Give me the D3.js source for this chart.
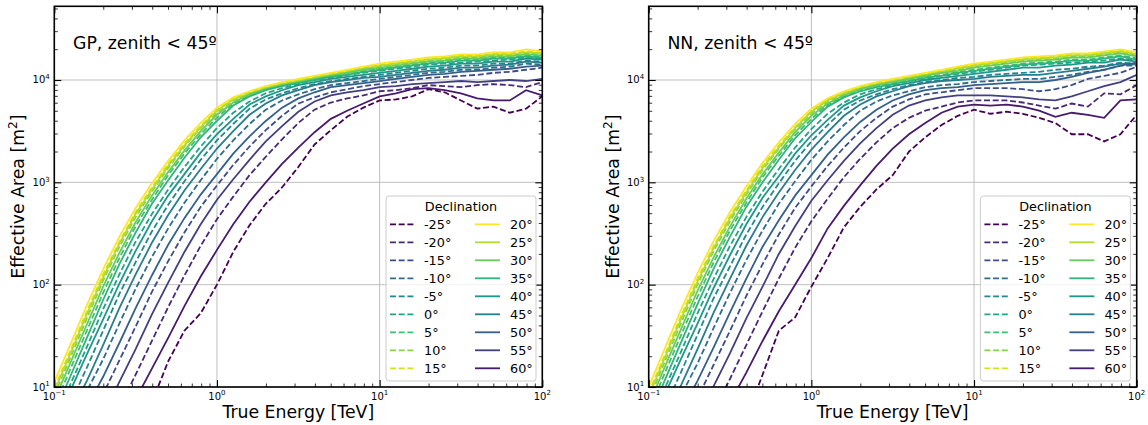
<!DOCTYPE html>
<html>
<head>
<meta charset="utf-8">
<script src="https://cdn.jsdelivr.net/npm/d3@7"></script>
<style>
body { margin: 0; background: #fff; }
svg text { font-family: "DejaVu Sans", sans-serif; fill: #000; }
</style>
</head>
<body>
<svg id="chart" width="1148" height="425"></svg>
<script>
// energy grid, log10(E / TeV)
var logEnergy = [-1.0,-0.9,-0.8,-0.7,-0.6,-0.5,-0.4,-0.3,-0.2,-0.1,0.0,0.1,0.2,0.3,0.4,0.5,0.6,0.7,0.8,0.9,1.0,1.1,1.2,1.3,1.4,1.5,1.6,1.7,1.8,1.9,2.0];

var declinations = [-25,-20,-15,-10,-5,0,5,10,15,20,25,30,35,40,45,50,55,60];

var panelTitles = ["GP, zenith < 45º", "NN, zenith < 45º"];

var xTickExponents = [-1, 0, 1, 2];
var yTickExponents = [1, 2, 3, 4];

// log10(effective area / m2), one row per declination (same order as above)
var gpLogArea = [
  [null,null,null,null,null,null,0.85,1.25,1.55,1.72,2.00,2.32,2.58,2.79,2.95,3.15,3.37,3.51,3.64,3.73,3.80,3.81,3.84,3.91,3.88,3.80,3.72,3.74,3.68,3.72,3.84],
  [null,null,null,null,0.80,1.12,1.45,1.78,2.09,2.38,2.64,2.86,3.07,3.25,3.42,3.58,3.71,3.78,3.82,3.85,3.89,3.90,3.92,3.95,3.94,3.93,3.95,3.96,3.95,3.93,3.98],
  [null,null,0.60,0.93,1.26,1.59,1.93,2.23,2.51,2.76,2.97,3.17,3.35,3.51,3.65,3.77,3.83,3.88,3.91,3.94,3.96,3.98,4.00,4.02,4.03,4.04,4.05,4.07,4.08,4.10,4.12],
  [null,0.59,0.96,1.27,1.62,1.96,2.27,2.55,2.80,3.02,3.23,3.41,3.57,3.71,3.80,3.86,3.91,3.95,3.97,3.99,4.01,4.03,4.05,4.07,4.08,4.10,4.10,4.12,4.13,4.16,4.15],
  [0.48,0.84,1.19,1.55,1.91,2.22,2.52,2.78,3.01,3.22,3.41,3.57,3.72,3.81,3.87,3.92,3.96,3.99,4.01,4.03,4.05,4.07,4.09,4.11,4.12,4.14,4.14,4.16,4.16,4.19,4.18],
  [0.67,1.03,1.39,1.76,2.10,2.42,2.69,2.93,3.15,3.35,3.53,3.68,3.79,3.87,3.92,3.96,4.00,4.02,4.05,4.07,4.09,4.11,4.13,4.15,4.16,4.17,4.18,4.19,4.20,4.22,4.21],
  [0.81,1.18,1.55,1.92,2.26,2.57,2.83,3.07,3.28,3.47,3.63,3.77,3.85,3.91,3.95,3.98,4.01,4.04,4.06,4.09,4.11,4.13,4.15,4.17,4.18,4.20,4.20,4.22,4.22,4.24,4.23],
  [0.92,1.29,1.67,2.04,2.37,2.66,2.91,3.14,3.35,3.53,3.68,3.80,3.86,3.91,3.95,3.98,4.01,4.04,4.07,4.10,4.13,4.15,4.17,4.19,4.20,4.22,4.22,4.24,4.24,4.26,4.25],
  [0.99,1.36,1.74,2.10,2.42,2.71,2.95,3.18,3.38,3.55,3.71,3.82,3.88,3.93,3.97,4.00,4.03,4.06,4.09,4.12,4.15,4.17,4.19,4.21,4.22,4.24,4.24,4.26,4.26,4.28,4.27],
  [1.05,1.42,1.80,2.15,2.47,2.75,2.99,3.21,3.41,3.58,3.73,3.83,3.89,3.94,3.98,4.01,4.04,4.07,4.10,4.13,4.16,4.18,4.20,4.22,4.23,4.25,4.25,4.27,4.27,4.30,4.28],
  [0.96,1.33,1.71,2.07,2.40,2.69,2.93,3.16,3.36,3.54,3.70,3.81,3.87,3.92,3.96,3.99,4.02,4.05,4.08,4.11,4.14,4.16,4.18,4.20,4.21,4.23,4.23,4.25,4.25,4.27,4.26],
  [0.87,1.24,1.61,1.98,2.31,2.61,2.87,3.10,3.31,3.50,3.66,3.78,3.86,3.91,3.95,3.98,4.01,4.04,4.07,4.10,4.12,4.14,4.16,4.18,4.19,4.21,4.21,4.23,4.23,4.25,4.24],
  [0.74,1.11,1.48,1.85,2.20,2.51,2.79,3.02,3.24,3.44,3.60,3.75,3.84,3.90,3.94,3.97,4.00,4.03,4.05,4.08,4.10,4.12,4.14,4.16,4.17,4.19,4.19,4.21,4.21,4.23,4.22],
  [0.62,0.97,1.32,1.66,2.01,2.33,2.62,2.87,3.08,3.29,3.47,3.62,3.76,3.84,3.90,3.95,3.98,4.01,4.03,4.05,4.07,4.09,4.11,4.13,4.14,4.16,4.16,4.18,4.18,4.21,4.20],
  [null,0.75,1.06,1.41,1.77,2.10,2.41,2.68,2.92,3.13,3.33,3.50,3.66,3.77,3.85,3.90,3.95,3.98,4.00,4.02,4.03,4.05,4.07,4.09,4.10,4.12,4.12,4.14,4.15,4.18,4.17],
  [null,null,0.80,1.10,1.43,1.77,2.09,2.39,2.65,2.88,3.08,3.28,3.45,3.60,3.73,3.82,3.88,3.93,3.95,3.97,3.99,4.01,4.03,4.05,4.06,4.08,4.09,4.10,4.11,4.13,4.14],
  [null,null,null,0.72,1.05,1.37,1.71,2.02,2.32,2.59,2.83,3.03,3.22,3.40,3.55,3.69,3.79,3.85,3.88,3.90,3.93,3.94,3.96,3.97,3.98,3.99,3.98,3.99,4.00,3.99,4.01],
  [null,null,null,null,null,0.88,1.18,1.48,1.79,2.08,2.34,2.59,2.81,3.00,3.18,3.34,3.49,3.62,3.70,3.77,3.84,3.87,3.91,3.92,3.90,3.87,3.82,3.80,3.80,3.90,3.85]
];

var nnLogArea = [
  [null,null,null,null,null,null,0.70,1.12,1.55,1.68,1.98,2.26,2.56,2.76,2.93,3.07,3.30,3.44,3.56,3.65,3.71,3.67,3.69,3.67,3.63,3.58,3.47,3.47,3.40,3.47,3.66],
  [null,null,null,null,0.76,1.08,1.41,1.74,2.06,2.36,2.62,2.84,3.05,3.23,3.39,3.53,3.63,3.70,3.74,3.78,3.80,3.80,3.80,3.78,3.75,3.72,3.77,3.74,3.87,3.86,3.95],
  [null,null,0.56,0.89,1.22,1.55,1.89,2.20,2.49,2.75,2.96,3.16,3.34,3.50,3.63,3.74,3.81,3.86,3.88,3.90,3.92,3.92,3.92,3.91,3.89,3.91,3.95,4.01,4.04,4.07,4.13],
  [null,0.55,0.92,1.23,1.58,1.92,2.24,2.53,2.79,3.01,3.22,3.40,3.56,3.70,3.79,3.85,3.89,3.93,3.95,3.96,3.98,3.99,4.00,4.01,4.01,4.03,4.05,4.08,4.10,4.14,4.14],
  [0.43,0.80,1.15,1.51,1.87,2.18,2.49,2.76,2.99,3.21,3.40,3.56,3.71,3.80,3.86,3.91,3.95,3.98,4.00,4.02,4.03,4.05,4.06,4.07,4.08,4.10,4.11,4.13,4.14,4.17,4.16],
  [0.62,0.99,1.35,1.72,2.06,2.38,2.66,2.91,3.13,3.34,3.52,3.67,3.78,3.86,3.91,3.95,3.99,4.01,4.04,4.06,4.08,4.10,4.12,4.14,4.15,4.16,4.17,4.18,4.19,4.21,4.19],
  [0.76,1.14,1.51,1.88,2.22,2.53,2.80,3.05,3.26,3.46,3.62,3.76,3.84,3.90,3.94,3.97,4.00,4.03,4.05,4.08,4.10,4.12,4.14,4.16,4.17,4.18,4.20,4.20,4.22,4.24,4.21],
  [0.87,1.25,1.63,2.00,2.33,2.62,2.88,3.12,3.33,3.52,3.67,3.79,3.86,3.91,3.95,3.98,4.01,4.04,4.07,4.10,4.13,4.15,4.17,4.19,4.20,4.21,4.23,4.23,4.25,4.27,4.24],
  [0.94,1.32,1.70,2.06,2.38,2.67,2.92,3.16,3.36,3.54,3.70,3.81,3.88,3.93,3.97,4.00,4.03,4.06,4.09,4.12,4.15,4.17,4.19,4.21,4.22,4.23,4.25,4.25,4.27,4.29,4.26],
  [1.00,1.38,1.76,2.11,2.43,2.71,2.96,3.19,3.39,3.57,3.72,3.82,3.89,3.94,3.98,4.01,4.04,4.07,4.10,4.13,4.16,4.18,4.20,4.22,4.23,4.24,4.26,4.26,4.28,4.30,4.27],
  [0.91,1.29,1.67,2.03,2.36,2.65,2.90,3.14,3.34,3.53,3.69,3.80,3.87,3.92,3.96,3.99,4.02,4.05,4.08,4.11,4.14,4.16,4.18,4.20,4.21,4.22,4.24,4.24,4.26,4.28,4.25],
  [0.82,1.20,1.57,1.94,2.27,2.57,2.84,3.08,3.29,3.49,3.65,3.77,3.85,3.91,3.95,3.98,4.01,4.04,4.07,4.09,4.12,4.14,4.16,4.18,4.19,4.20,4.22,4.22,4.24,4.26,4.23],
  [0.69,1.07,1.44,1.81,2.16,2.47,2.76,3.00,3.22,3.43,3.59,3.74,3.83,3.89,3.93,3.96,3.99,4.02,4.04,4.07,4.09,4.11,4.13,4.15,4.16,4.17,4.19,4.19,4.21,4.23,4.20],
  [0.57,0.93,1.28,1.62,1.97,2.29,2.59,2.85,3.06,3.28,3.46,3.61,3.75,3.83,3.89,3.94,3.97,4.00,4.02,4.04,4.06,4.08,4.10,4.12,4.12,4.14,4.15,4.17,4.17,4.20,4.18],
  [null,0.71,1.02,1.37,1.73,2.06,2.38,2.66,2.90,3.12,3.32,3.49,3.65,3.76,3.84,3.89,3.94,3.97,3.99,4.00,4.01,4.03,4.04,4.05,4.05,4.07,4.09,4.11,4.13,4.16,4.15],
  [null,null,0.76,1.06,1.39,1.73,2.06,2.37,2.63,2.87,3.07,3.27,3.44,3.59,3.71,3.80,3.86,3.90,3.92,3.93,3.95,3.96,3.97,3.98,3.98,4.00,4.03,4.07,4.10,4.14,4.17],
  [null,null,null,0.68,1.01,1.33,1.67,1.98,2.30,2.57,2.82,3.02,3.21,3.38,3.53,3.66,3.75,3.80,3.83,3.85,3.85,3.85,3.84,3.83,3.81,3.80,3.84,3.89,3.94,3.98,4.05],
  [null,null,null,null,null,0.85,1.14,1.45,1.74,2.00,2.26,2.55,2.77,2.97,3.16,3.33,3.47,3.58,3.68,3.74,3.76,3.75,3.76,3.74,3.70,3.64,3.68,3.66,3.63,3.80,3.81]
];

// layout
var plotW = 488, plotTop = 6.3, plotBottom = 387;
var panelLeft = [54.3, 648.7];
var yMaxArea = 5.25e4;

var svg = d3.select("#chart");

// colour by distance from overhead (site latitude ~19 deg)
function decColor(dec) {
	var zen = Math.abs(dec - 19);
	return d3.interpolateViridis(1 - (zen - 1) / 43);
}
function dashFor(dec) { return dec < 20 ? "6,2.7" : null; }

function powLabel(sel, exp, baseSize) {
	sel.append("tspan").text("10");
	sel.append("tspan").attr("dy", -baseSize * 0.42).attr("font-size", baseSize * 0.7)
		.text(exp < 0 ? "\u2212" + (-exp) : exp);
}

function drawPanel(p, logAreas) {
	var x0 = panelLeft[p];
	var x = d3.scaleLog().domain([0.1, 100]).range([x0, x0 + plotW]);
	var y = d3.scaleLog().domain([10, yMaxArea]).range([plotBottom, plotTop]);
	var g = svg.append("g");

	var clipId = "clip" + p;
	g.append("clipPath").attr("id", clipId).append("rect")
		.attr("x", x0).attr("y", plotTop).attr("width", plotW).attr("height", plotBottom - plotTop);

	var xMajor = xTickExponents.map(function(e) { return Math.pow(10, e); });
	var yMajor = yTickExponents.map(function(e) { return Math.pow(10, e); });

	// grid
	g.append("g").selectAll("line").data(xMajor).enter().append("line")
		.attr("x1", function(d) { return x(d); }).attr("x2", function(d) { return x(d); })
		.attr("y1", plotTop).attr("y2", plotBottom)
		.attr("stroke", "#b8b8b8").attr("stroke-width", 0.9);
	g.append("g").selectAll("line").data(yMajor).enter().append("line")
		.attr("y1", function(d) { return y(d); }).attr("y2", function(d) { return y(d); })
		.attr("x1", x0).attr("x2", x0 + plotW)
		.attr("stroke", "#b8b8b8").attr("stroke-width", 0.9);

	// curves
	var line = d3.line()
		.defined(function(d) { return d[1] != null; })
		.x(function(d) { return x(d[0]); })
		.y(function(d) { return y(d[1]); });
	var curves = g.append("g").attr("clip-path", "url(#" + clipId + ")");
	declinations.forEach(function(dec, k) {
		var pts = logEnergy.map(function(le, j) {
			var v = logAreas[k][j];
			return [Math.pow(10, le), v == null ? null : Math.pow(10, v)];
		});
		curves.append("path").attr("d", line(pts))
			.attr("fill", "none").attr("stroke", decColor(dec))
			.attr("stroke-width", 1.8).attr("stroke-dasharray", dashFor(dec));
	});

	// ticks, pointing inward on all four sides
	var xMinor = x.ticks().filter(function(v) { return xMajor.indexOf(v) < 0; });
	var yMinor = y.ticks().filter(function(v) { return yMajor.indexOf(v) < 0; });
	function tickSet(axis, tx, ty, vals, size, w) {
		g.append("g").attr("transform", "translate(" + tx + "," + ty + ")")
			.call(axis.tickValues(vals).tickSize(-size).tickSizeOuter(0).tickFormat(""))
			.call(function(s) { s.select(".domain").remove(); s.selectAll("line").attr("stroke-width", w); });
	}
	[[xMajor, 7, 1.1], [xMinor, 3.5, 0.8]].forEach(function(t) {
		tickSet(d3.axisBottom(x), 0, plotBottom, t[0], t[1], t[2]);
		tickSet(d3.axisTop(x), 0, plotTop, t[0], t[1], t[2]);
	});
	[[yMajor, 7, 1.1], [yMinor, 3.5, 0.8]].forEach(function(t) {
		tickSet(d3.axisLeft(y), x0, 0, t[0], t[1], t[2]);
		tickSet(d3.axisRight(y), x0 + plotW, 0, t[0], t[1], t[2]);
	});

	// frame
	g.append("rect").attr("x", x0).attr("y", plotTop).attr("width", plotW).attr("height", plotBottom - plotTop)
		.attr("fill", "none").attr("stroke", "#000").attr("stroke-width", 1.6);

	// tick labels
	xTickExponents.forEach(function(e) {
		var t = g.append("text").attr("x", x(Math.pow(10, e))).attr("y", plotBottom + 12.5)
			.attr("text-anchor", "middle").attr("font-size", 10);
		powLabel(t, e, 10);
	});
	yTickExponents.forEach(function(e) {
		var t = g.append("text").attr("x", x0 - 4.5).attr("y", y(Math.pow(10, e)) + 3.5)
			.attr("text-anchor", "end").attr("font-size", 10);
		powLabel(t, e, 10);
	});

	// axis labels
	g.append("text").attr("x", x0 + plotW / 2).attr("y", 418).attr("text-anchor", "middle")
		.attr("font-size", 17.3).text("True Energy [TeV]");
	var yl = g.append("text").attr("transform", "translate(" + (x0 - 30) + "," + ((plotTop + plotBottom) / 2) + ") rotate(-90)")
		.attr("text-anchor", "middle").attr("font-size", 17.3);
	yl.append("tspan").text("Effective Area [m");
	yl.append("tspan").attr("dy", -7).attr("font-size", 12).text("2");
	yl.append("tspan").attr("dy", 7).text("]");

	// panel title
	g.append("text").attr("x", x0 + 18.7).attr("y", 49).attr("font-size", 17.3).text(panelTitles[p]);

	// legend
	var L = x0 + 331.7, T = 196;
	var lg = g.append("g");
	lg.append("rect").attr("x", L).attr("y", T).attr("width", 150).attr("height", 185)
		.attr("rx", 3).attr("fill", "#fff").attr("fill-opacity", 0.8)
		.attr("stroke", "#cccccc").attr("stroke-width", 1);
	lg.append("text").attr("x", L + 75).attr("y", T + 14.7).attr("text-anchor", "middle")
		.attr("font-size", 12.8).text("Declination");
	declinations.forEach(function(dec, k) {
		var col = k < 9 ? 0 : 1, row = k % 9;
		var ry = T + 28.3 + 18 * row;
		var hx = L + 4 + col * 85;
		lg.append("line").attr("x1", hx).attr("x2", hx + 25).attr("y1", ry).attr("y2", ry)
			.attr("stroke", decColor(dec)).attr("stroke-width", 1.8)
			.attr("stroke-dasharray", dashFor(dec));
		lg.append("text").attr("x", hx + 34 + col).attr("y", ry + 4.6)
			.attr("font-size", 12.8).text(dec + "°");
	});
}

drawPanel(0, gpLogArea);
drawPanel(1, nnLogArea);
</script>
</body>
</html>
